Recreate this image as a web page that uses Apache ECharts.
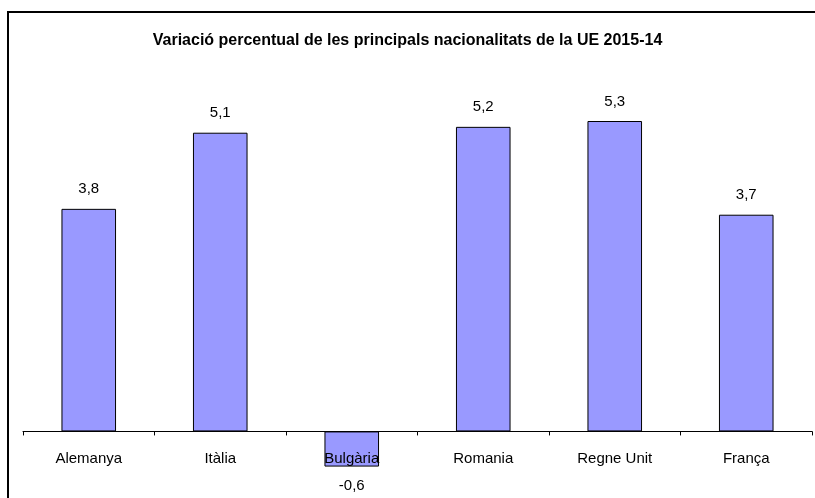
<!DOCTYPE html>
<html>
<head>
<meta charset="utf-8">
<script src="https://cdn.jsdelivr.net/npm/echarts@6/dist/echarts.min.js"></script>
<style>
  html, body { margin: 0; padding: 0; background: #fff; }
  #chart { width: 815px; height: 498px; }
</style>
</head>
<body>
<div id="chart"></div>
<script>
const titleText = "Variació percentual de les principals nacionalitats de la UE 2015-14";
const countries = ["Alemanya", "Itàlia", "Bulgària", "Romania", "Regne Unit", "França"];
const variation = [3.8, 5.1, -0.6, 5.2, 5.3, 3.7];
const yMin = -1;
const yMax = 6;

const chart = echarts.init(document.getElementById("chart"), null, { renderer: "canvas" });

const fmt = (v) => String(v).replace(".", ",");

const gridTop = 80;
const gridHeight = 410;
// the category axis sits on the zero line, labels included
const zeroOffset = -gridHeight * (0 - yMin) / (yMax - yMin);

chart.setOption({
  animation: false,
  backgroundColor: "#fff",
  textStyle: { fontFamily: "Liberation Sans, Arial, sans-serif" },
  title: {
    text: titleText,
    left: "center",
    top: 28,
    textStyle: { fontSize: 16, fontWeight: "bold", color: "#000" }
  },
  graphic: [{
    type: "rect",
    shape: { x: 8, y: 12, width: 820, height: 500 },
    style: { fill: "none", stroke: "#000", lineWidth: 2 },
    silent: true
  }],
  grid: {
    left: 23, right: 3, top: gridTop, height: gridHeight,
    containLabel: false,
    outerBoundsMode: "none"
  },
  xAxis: {
    type: "category",
    data: countries,
    offset: zeroOffset,
    axisLine: { onZero: false, lineStyle: { color: "#000", width: 1 } },
    axisTick: { show: true, length: 4, alignWithLabel: false, lineStyle: { color: "#000" } },
    axisLabel: { color: "#000", fontSize: 15, margin: 20, interval: 0 },
    z: 10
  },
  yAxis: {
    type: "value",
    min: yMin,
    max: yMax,
    interval: 1,
    show: false,
    splitLine: { show: false }
  },
  series: [{
    type: "bar",
    data: variation,
    barWidth: "41.5%",
    itemStyle: { color: "#9999FF", borderColor: "#000", borderWidth: 1 },
    label: {
      show: true,
      position: "outside",
      distance: 12,
      color: "#000",
      fontSize: 15,
      formatter: (p) => fmt(p.value)
    },
    z: 2
  }]
});
</script>
</body>
</html>
